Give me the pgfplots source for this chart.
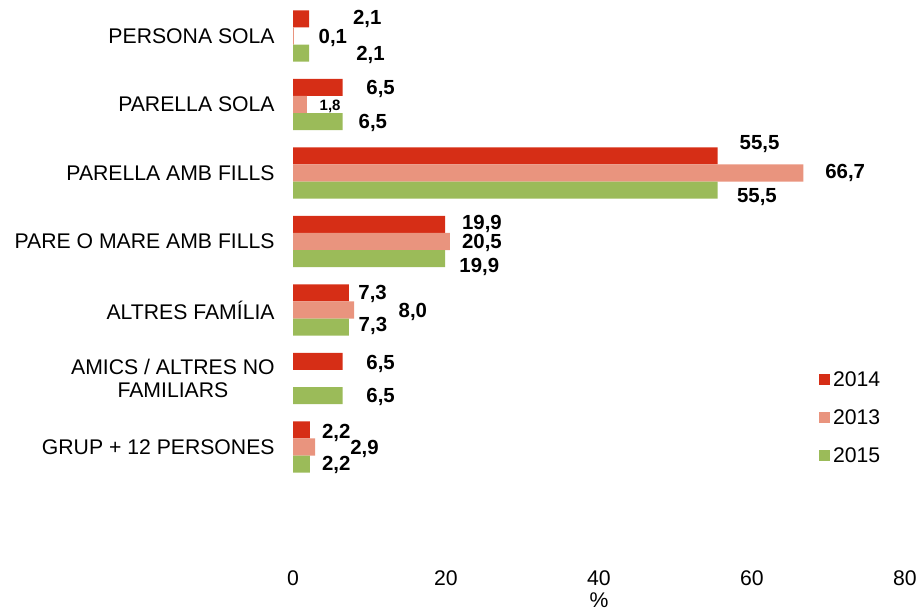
\documentclass[border=0pt]{standalone}
\usepackage{fontspec}
\setmainfont{Liberation Sans}
\usepackage{pgfplots}
\usepackage{pgfplotstable}
\pgfplotsset{compat=1.18}
\definecolor{cRed}{RGB}{214,46,22}
\definecolor{cSal}{RGB}{233,148,126}
\definecolor{cGrn}{RGB}{155,187,89}

\pgfplotstableread{
v y lab dx up fs
2.1 -0.25 2,1 43.6 -0.3 10.2
6.5 0.75 6,5 23.3 -2 10.2
55.5 1.75 55,5 21.7 12 10.2
19.9 2.75 19,9 16.5 0 10.2
7.3 3.75 7,3 9.2 -1.4 10.2
6.5 4.75 6,5 23.3 -2.8 10.2
2.2 5.75 2,2 11.9 -3.4 10.2
}\tabA

\pgfplotstableread{
v y lab dx up fs
0.1 0 0,1 24.5 -1.5 10.2
1.8 1 1,8 12.5 -2.2 7.5
66.7 2 66,7 21.7 0.5 10.2
20.5 3 20,5 11.9 -1.8 10.2
8.0 4 8,0 44.1 -2 10.2
2.9 6 2,9 34.8 -2.2 10.2
}\tabB

\pgfplotstableread{
v y lab dx up fs
2.1 0.25 2,1 46.9 -1.4 10.2
6.5 1.25 6,5 15.6 -0.9 10.2
55.5 2.25 55,5 19.1 -6.6 10.2
19.9 3.25 19,9 13.8 -7.9 10.2
7.3 4.25 7,3 9.5 1.4 10.2
6.5 5.25 6,5 23.3 -1.1 10.2
2.2 6.25 2,2 11.9 -0.9 10.2
}\tabC

\begin{document}
\begin{tikzpicture}
\path[use as bounding box] (0,0) rectangle (460.5pt,-306pt);
\begin{axis}[
  at={(146.5pt,-0.875pt)}, anchor=north west,
  scale only axis, width=306pt, height=284.14pt,
  xmin=0, xmax=80, ymin=-0.5, ymax=7.796,
  y dir=reverse, clip=false,
  axis line style={draw=none},
  major tick length=0pt,
  xtick={0,20,40,60,80},
  ytick={0,1,2,3,4,5,6},
  yticklabels={PERSONA SOLA, PARELLA SOLA, PARELLA AMB FILLS, PARE O MARE AMB FILLS, ALTRES FAMÍLIA, {AMICS / ALTRES NO\\FAMILIARS}, GRUP + 12 PERSONES},
  /pgf/number format/assume math mode=true,
  yticklabel style={align=center, inner sep=0pt, xshift=-9pt, font=\fontsize{10.6}{11.7}\selectfont},
  xticklabel style={inner sep=0pt, anchor=north, font=\fontsize{10.6}{12}\selectfont},
  xlabel={\%},
  xlabel style={at={(axis description cs:0.5,0)}, anchor=center, yshift=-15.3pt, inner sep=0pt, font=\fontsize{10.6}{12}\selectfont},
  legend style={draw=none, fill=none, at={(axis description cs:0.8595,0.3491)}, anchor=north west,
     font=\fontsize{10.6}{12}\selectfont, row sep=11.6pt, column sep=1.5pt, inner sep=0pt, outer sep=0pt,
     nodes={inner sep=0pt, text height=7.4pt, text depth=0pt}},
  legend cell align=left,
  nodes near coords,
  point meta=explicit symbolic,
  nodes near coords style={anchor=west, inner sep=0pt, xshift=\dx*0.5pt, yshift=\up*0.5pt, font=\bfseries\fontsize{\fs}{\fs}\selectfont},
]
\addplot[xbar, bar shift=0pt, bar width=0.25, fill=cRed, draw=none,
  legend image code/.code={\fill[cRed] (0pt,-2.75pt) rectangle (5.5pt,2.75pt);},
  visualization depends on={\thisrow{dx}\as\dx},
  visualization depends on={\thisrow{up}\as\up},
  visualization depends on={\thisrow{fs}\as\fs}]
  table[x=v, y=y, meta=lab]{\tabA};
\addlegendentry{2014}
\addplot[xbar, bar shift=0pt, bar width=0.25, fill=cSal, draw=none,
  legend image code/.code={\fill[cSal] (0pt,-2.75pt) rectangle (5.5pt,2.75pt);},
  visualization depends on={\thisrow{dx}\as\dx},
  visualization depends on={\thisrow{up}\as\up},
  visualization depends on={\thisrow{fs}\as\fs}]
  table[x=v, y=y, meta=lab]{\tabB};
\addlegendentry{2013}
\addplot[xbar, bar shift=0pt, bar width=0.25, fill=cGrn, draw=none,
  legend image code/.code={\fill[cGrn] (0pt,-2.75pt) rectangle (5.5pt,2.75pt);},
  visualization depends on={\thisrow{dx}\as\dx},
  visualization depends on={\thisrow{up}\as\up},
  visualization depends on={\thisrow{fs}\as\fs}]
  table[x=v, y=y, meta=lab]{\tabC};
\addlegendentry{2015}
\end{axis}
\end{tikzpicture}
\end{document}
